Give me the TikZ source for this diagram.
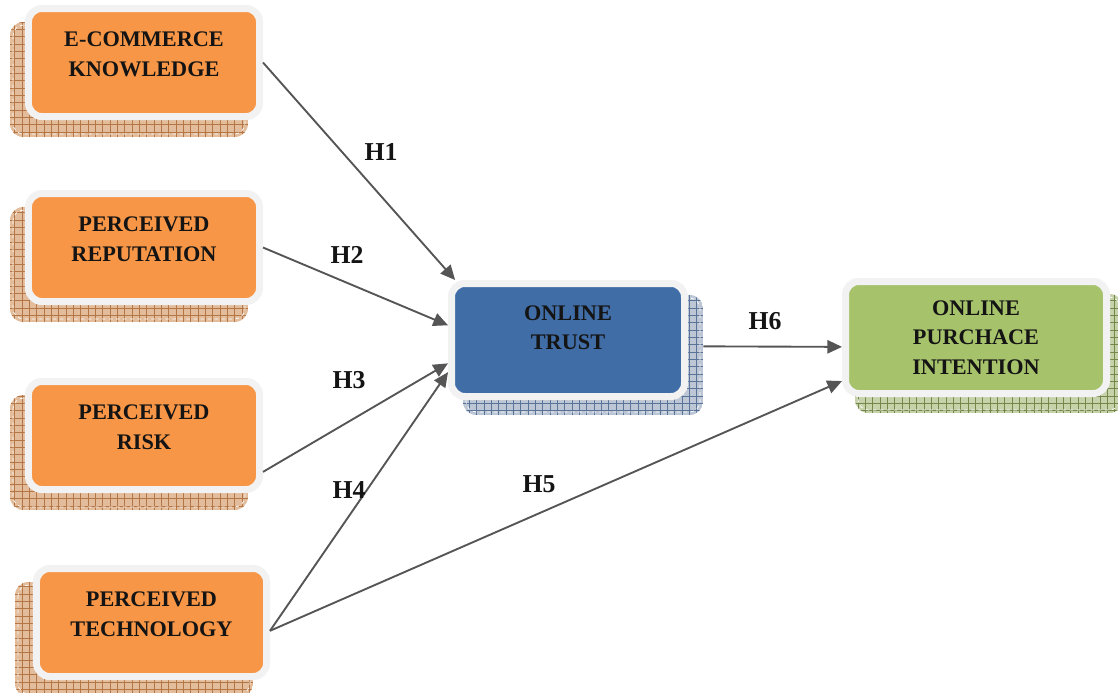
\documentclass[tikz,border=0pt]{standalone}
\usepackage{fontspec}
\setmainfont{Liberation Serif}
\usetikzlibrary{arrows.meta,calc}
\definecolor{boxborder}{HTML}{F2F2F2}
\definecolor{orangefill}{HTML}{F79646}
\definecolor{bluefill}{HTML}{416DA6}
\definecolor{greenfill}{HTML}{A6C26A}
\definecolor{orshadow}{HTML}{E2BC9B}
\definecolor{orgrid}{HTML}{B47645}
\definecolor{blshadow}{HTML}{BCC6D5}
\definecolor{blgrid}{HTML}{5A7398}
\definecolor{grshadow}{HTML}{C6D2AA}
\definecolor{grgrid}{HTML}{76874A}
\definecolor{linkgray}{HTML}{555555}
\definecolor{txt}{HTML}{141414}
\newcommand\backcard[6]{%
  \begin{scope}
    \path[clip, rounded corners=0.4cm] (#1,#2) rectangle (#3,#4);
    \fill[#5] (#1,#2) rectangle (#3,#4);
    \draw[#6, line width=0.4pt, step=0.22cm] (#1,#2) grid (#3,#4);
  \end{scope}
  \draw[white, dashed, line width=0.6pt, rounded corners=0.32cm]
    ($(#1,#2)+(3,3)$) rectangle ($(#3,#4)+(-3,-3)$);
}
\tikzset{
  cbox/.style={rounded corners=0.4cm, draw=boxborder, line width=0.21cm,
    align=center, font=\bfseries\fontsize{19}{25.5}\selectfont, text=txt,
    inner sep=0pt},
  link/.style={draw=linkgray, line width=1.6pt,
    -{Triangle[length=0.44cm,width=0.4cm]}},
  hlabel/.style={font=\bfseries\fontsize{22}{24}\selectfont, text=txt, inner sep=0pt},
}
\begin{document}
\begin{tikzpicture}[x=0.03cm, y=-0.03cm]
\useasboundingbox (0,0) rectangle (1118,692);
\clip (0,0) rectangle (1118,692);
\fill[white] (0,0) rectangle (1118,692);

% back cards
\backcard{10}{22}{248}{137}{orshadow}{orgrid}
\backcard{10}{207}{248}{322}{orshadow}{orgrid}
\backcard{10}{395}{248}{510}{orshadow}{orgrid}
\backcard{15}{582}{253}{697}{orshadow}{orgrid}
\backcard{463}{295}{703}{415}{blshadow}{blgrid}
\backcard{855}{294}{1123}{413}{grshadow}{grgrid}

% main boxes
\node[cbox, fill=orangefill, minimum width=6.93cm, minimum height=3.24cm, text depth=13.6pt]
  (ecom) at (144,62.5) {E-COMMERCE\\KNOWLEDGE};
\node[cbox, fill=orangefill, minimum width=6.93cm, minimum height=3.24cm, text depth=13.6pt]
  (rep) at (144,247.5) {PERCEIVED\\REPUTATION};
\node[cbox, fill=orangefill, minimum width=6.93cm, minimum height=3.24cm, text depth=13.6pt]
  (risk) at (144,435.5) {PERCEIVED\\RISK};
\node[cbox, fill=orangefill, minimum width=6.9cm, minimum height=3.24cm, text depth=13.6pt]
  (tech) at (151.5,622.5) {PERCEIVED\\TECHNOLOGY};
\node[cbox, fill=bluefill, minimum width=6.99cm, minimum height=3.39cm, text depth=20.5pt,
  font=\bfseries\fontsize{19}{24.7}\selectfont]
  (trust) at (568,340) {ONLINE\\TRUST};
\node[cbox, fill=greenfill, minimum width=7.83cm, minimum height=3.36cm,
  font=\bfseries\fontsize{19}{25}\selectfont]
  (purch) at (976,337.5) {ONLINE\\PURCHACE\\INTENTION};

% connectors
\draw[link] (ecom.east) -- (trust.152);
\draw[link] (rep.east) -- (trust.173);
\draw[link] (risk.-17) -- (trust.191);
\draw[link] (tech.-4) -- (trust.195);
\draw[link] (tech.-4) -- (purch.198.5);
\draw[link, shorten <=0.46cm] (trust.-3) -- (purch.184);

% labels
\node[hlabel] (h1) at (381,152) {H1};
\node[hlabel] (h2) at (347,255) {H2};
\node[hlabel] (h3) at (349,380) {H3};
\node[hlabel] (h4) at (349,490) {H4};
\node[hlabel] (h5) at (539,484) {H5};
\node[hlabel] (h6) at (765,321) {H6};
\end{tikzpicture}
\end{document}
